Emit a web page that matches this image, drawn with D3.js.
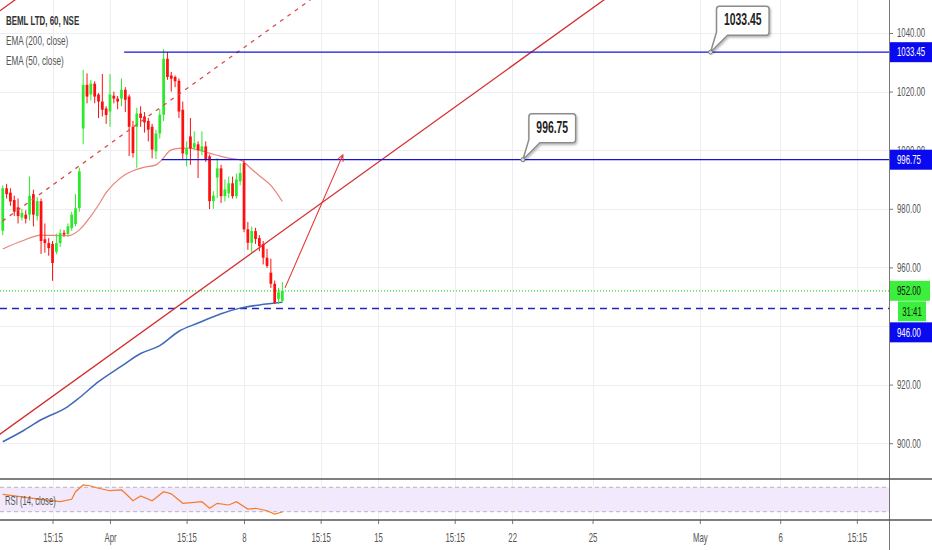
<!DOCTYPE html>
<html>
<head>
<meta charset="utf-8">
<script src="https://cdn.jsdelivr.net/npm/d3@7"></script>
<style>
  body { margin: 0; background: #fff; }
  svg { display: block; font-family: "Liberation Sans", Arial, sans-serif; }
</style>
</head>
<body>
<div id="chart"></div>
<script>
// ---- data (hourly bars, index 0 = 1 Apr 09:15) ----
const barStart = -28;
const opens = [972.5, 987, 985.5, 983, 980.5, 977, 978, 978, 985, 977.5, 982.6, 969.6, 968.3, 968, 965.3, 968.3, 971.8, 971.4, 973.4, 974.8, 980.3,
  1007.4, 1022.3, 1019, 1022.7, 1019, 1016.6, 1014.2,
  1013.2, 1018.6, 1017.6, 1017.6, 1020.6, 1018.3, 1008,
  1008, 1012.5, 1011.5, 1010, 1008, 999.6, 1005.7,
  1012.1, 1031.2, 1025.5, 1025, 1023.7, 1013.8, 998.5,
  1004.7, 1000.9, 1002, 999.6, 1001.3, 997.9, 982.6,
  990.6, 993.8, 984.3, 985.3, 988.7, 984.3, 989.4,
  995.6, 973, 968.4, 972.4, 970, 968, 963.3,
  958.2, 954.4, 949.3, 948.6];
const highs = [988, 988.5, 987, 984.5, 983.5, 980, 979.5, 991, 986.5, 984, 983.5, 975, 970, 969, 971.5, 973, 972.8, 975, 979, 985, 994,
  1027.4, 1026.2, 1024, 1023.5, 1019.5, 1026, 1015,
  1026, 1020, 1018.5, 1024.5, 1021.5, 1019, 1010,
  1014.5, 1015, 1013, 1011, 1009, 1007, 1014,
  1034.5, 1033.45, 1026.7, 1025.5, 1024.5, 1016.6, 1003,
  1011, 1006.4, 1003, 1006.4, 1003, 998.5, 986,
  997.3, 995, 990, 991, 991, 992, 995.5,
  996.75, 975.5, 974, 973.5, 971, 969, 966.3,
  963, 955.5, 953, 955];
const lows = [971, 983.5, 981, 977.5, 975, 976, 975, 976, 974, 976, 964.6, 965, 964, 955.4, 964.5, 967, 970.5, 970.5, 972.5, 974, 979,
  1002, 1016, 1017, 1016, 1011, 1011.5, 1009,
  1008, 1016, 1014, 1015, 1013, 998, 997.5,
  994, 1008, 1006, 1003, 997.2, 997, 1004,
  1010, 1024, 1020, 1021.5, 1011, 996.8, 994.5,
  995, 1000, 990.5, 998.3, 996, 979.9, 980,
  983.7, 982, 982.5, 983.7, 983.5, 983.5, 988,
  972, 966, 965, 968, 965.5, 961, 959.8,
  953, 947.5, 947.6, 948];
const closes = [987, 985, 982.5, 979, 977.5, 978.6, 976.6, 984.4, 978, 982.6, 969, 968.3, 966.6, 961.5, 968.3, 971.7, 971.2, 974, 978, 980.2, 992.8,
  1022.3, 1018.3, 1022.7, 1018.3, 1016.6, 1013.8, 1012,
  1019, 1017.6, 1016.6, 1020.6, 1017.2, 1008, 999,
  1012.5, 1011, 1009.5, 1007, 1000.2, 1005.7, 1012.1,
  1031.2, 1025, 1024.4, 1023.5, 1013.2, 998.9, 1000.5,
  1000.6, 1002.4, 1000, 1001.3, 997, 982.6, 984.5,
  993.8, 984.3, 986.6, 988.7, 984.3, 990, 992.2,
  973, 968.4, 972.4, 969.7, 967.3, 963.3, 960.5,
  954.4, 948, 951.5, 952];

const ema50Idx = [-28, -23, -18, -11, -8, -5, -3, -1, 1, 4, 6, 9, 12, 13, 16, 18, 21, 23, 26, 29, 31, 34, 37, 39, 42, 45];
const ema50Val = [966.3, 969, 971, 970.8, 972.8, 977.5, 981.3, 985.5, 988.5, 991.7, 993, 994.2, 995, 996, 1000.1, 1000.6, 1000.7, 1000.1, 999, 997.9, 997.3, 996.7, 993.5, 991.3, 988, 982.5];
const ema200Idx = [-28, -23, -18, -11, -8, -3, 3, 8, 13, 18, 23, 29, 34, 39, 45];
const ema200Val = [900.5, 904, 908, 912.5, 915.5, 921, 926.3, 930.6, 933.3, 938.2, 941, 944.2, 946.1, 947.2, 948.1];

const rsiIdx = [-28, -24, -18, -13, -10, -9, -7, -5, -3, 0, 3, 4, 6, 8, 11, 14, 16, 19, 22, 24, 26, 28, 31, 33, 36, 38, 41, 43, 45];
const rsiVal = [58.5, 55, 50.3, 46.4, 50.3, 62.8, 73.8, 72.1, 68.4, 64.4, 65.6, 60.2, 48, 55.7, 48, 62.8, 59.2, 43.8, 45.4, 46.4, 35.6, 43.8, 41, 46.4, 34.4, 35.6, 31.6, 26.2, 29.5];

const priceTicks = [900, 920, 940, 960, 980, 1000, 1020, 1040];
const hiddenTicks = [940]; // covered by the 946.00 tag in the original
const xTickIdx = [-15, 0, 20, 35, 55, 70, 90, 105, 126, 154, 175, 195];
const xTickLabels = ["15:15", "Apr", "15:15", "8", "15:15", "15", "15:15", "22", "25", "May", "6", "15:15"];

// drawings: [bar index, price]
const trendMain = [[-30, 901.9], [131, 1053.2]];
const trendDashed = [[-30, 974.0], [54, 1052.9]];
const trendTop = [[-30, 1046.4], [-23, 1053]];
const arrowPts = [[45.7, 953], [60.8, 998.4]];
const levelPrices = [1033.45, 996.75];
const levelStart = [3.7, 13.5];
const calloutIdx = [156.8, 107.8];
const lastPrice = 952;
const supportPrice = 946;
const countdown = "31:41";

// ---- layout ----
const W = 932, H = 550;
const plotW = 889, mainH = 479, rsiBot = 520;
const squeeze = 0.65;
const green = "#2bea2b", red = "#ff1010";

const x = d3.scaleLinear().domain([-28.72, 203.4]).range([0, plotW]);
const y = d3.scaleLinear().domain([887.78, 1051.26]).range([mainH, 0]);
const yr = d3.scaleLinear().domain([30, 70]).range([511.7, 487.3]);

const svg = d3.select("#chart").append("svg").attr("width", W).attr("height", H);
svg.append("rect").attr("width", W).attr("height", H).attr("fill", "#fff");

const defs = svg.append("defs");
defs.append("clipPath").attr("id", "clipMain")
  .append("rect").attr("width", plotW).attr("height", mainH);
defs.append("filter").attr("id", "shadow")
  .attr("x", "-30%").attr("y", "-30%").attr("width", "160%").attr("height", "170%")
  .append("feDropShadow").attr("dx", 1).attr("dy", 1.5).attr("stdDeviation", 1)
  .attr("flood-color", "#000").attr("flood-opacity", 0.3);

const px = (v) => Math.round(v) + 0.5;

// squeezed text helper (the snapshot is horizontally compressed)
function label(g, tx, ty, txt, size, fill, weight, anchor, sq) {
  const s = sq || squeeze;
  return g.append("text")
    .attr("transform", `translate(${tx},${ty}) scale(${s},1)`)
    .attr("font-size", size)
    .attr("font-weight", weight || "normal")
    .attr("text-anchor", anchor || "start")
    .attr("fill", fill)
    .text(txt);
}

// RSI band
svg.append("rect")
  .attr("x", 0).attr("y", yr(70)).attr("width", plotW).attr("height", yr(30) - yr(70))
  .attr("fill", "#f3e9fd");

// grid
const grid = svg.append("g").attr("stroke", "#eceef3").attr("stroke-width", 1);
grid.selectAll(".vg").data(xTickIdx).enter().append("line")
  .attr("x1", (d) => px(x(d))).attr("x2", (d) => px(x(d)))
  .attr("y1", 0).attr("y2", rsiBot);
grid.selectAll(".hg").data(priceTicks).enter().append("line")
  .attr("x1", 0).attr("x2", plotW)
  .attr("y1", (d) => px(y(d))).attr("y2", (d) => px(y(d)));

// RSI bounds
svg.selectAll(".rb").data([70, 30]).enter().append("line")
  .attr("x1", 0).attr("x2", plotW)
  .attr("y1", (d) => yr(d)).attr("y2", (d) => yr(d))
  .attr("stroke", "#b4b4be").attr("stroke-dasharray", "4,3");

// RSI line
svg.append("path")
  .datum(d3.zip(rsiIdx, rsiVal))
  .attr("fill", "none").attr("stroke", "#f57c2a").attr("stroke-width", 1.2)
  .attr("d", d3.line().x((d) => x(d[0])).y((d) => yr(d[1])));
label(svg, 5, 505, "RSI (14, close)", 12, "#555", "normal", "start", 0.64);

// main pane
const main = svg.append("g").attr("clip-path", "url(#clipMain)");

main.append("line")
  .attr("x1", 0).attr("x2", plotW).attr("y1", y(lastPrice)).attr("y2", y(lastPrice))
  .attr("stroke", "#2bd92b").attr("stroke-width", 1.2).attr("stroke-dasharray", "1,2");
main.append("line")
  .attr("x1", 0).attr("x2", plotW).attr("y1", y(supportPrice)).attr("y2", y(supportPrice))
  .attr("stroke", "#2424b8").attr("stroke-width", 1.5).attr("stroke-dasharray", "7,5");

const emaLine = d3.line().x((d) => x(d[0])).y((d) => y(d[1])).curve(d3.curveMonotoneX);
main.append("path").datum(d3.zip(ema200Idx, ema200Val))
  .attr("fill", "none").attr("stroke", "#4169b5").attr("stroke-width", 1.5).attr("d", emaLine);
main.append("path").datum(d3.zip(ema50Idx, ema50Val))
  .attr("fill", "none").attr("stroke", "#e8847d").attr("stroke-width", 1.2).attr("d", emaLine);

// candles
const bars = opens.map((o, k) => ({ i: barStart + k, o, h: highs[k], l: lows[k], c: closes[k] }));
const bw = x(0.72) - x(0);
const cg = main.append("g");
cg.selectAll(".wick").data(bars).enter().append("line")
  .attr("x1", (d) => x(d.i)).attr("x2", (d) => x(d.i))
  .attr("y1", (d) => y(d.h)).attr("y2", (d) => y(d.l))
  .attr("stroke", (d) => (d.c >= d.o ? green : red)).attr("stroke-width", 1);
cg.selectAll(".body").data(bars).enter().append("rect")
  .attr("x", (d) => x(d.i) - bw / 2).attr("width", bw)
  .attr("y", (d) => y(Math.max(d.o, d.c)))
  .attr("height", (d) => Math.max(1, Math.abs(y(d.o) - y(d.c))))
  .attr("fill", (d) => (d.c >= d.o ? green : red));

// trend lines
const seg = d3.line().x((d) => x(d[0])).y((d) => y(d[1]));
main.append("path").datum(trendMain).attr("d", seg)
  .attr("stroke", "#d42f2f").attr("stroke-width", 1.3).attr("fill", "none");
main.append("path").datum(trendTop).attr("d", seg)
  .attr("stroke", "#d42f2f").attr("stroke-width", 1.3).attr("fill", "none");
main.append("path").datum(trendDashed).attr("d", seg)
  .attr("stroke", "#d94a4a").attr("stroke-width", 1.3).attr("stroke-dasharray", "4,5").attr("fill", "none");

// horizontal levels
main.selectAll(".lvl").data(levelPrices).enter().append("line")
  .attr("x1", (d, k) => x(levelStart[k])).attr("x2", plotW)
  .attr("y1", (d) => y(d)).attr("y2", (d) => y(d))
  .attr("stroke", "#1414d6").attr("stroke-width", 1.3);

// arrow
{
  const [a, b] = arrowPts.map((p) => [x(p[0]), y(p[1])]);
  const ang = Math.atan2(b[1] - a[1], b[0] - a[0]);
  const hl = 7;
  main.append("path")
    .attr("d", `M${a[0]},${a[1]}L${b[0]},${b[1]}` +
      `M${b[0] - hl * Math.cos(ang - 0.45)},${b[1] - hl * Math.sin(ang - 0.45)}L${b[0]},${b[1]}` +
      `L${b[0] - hl * Math.cos(ang + 0.45)},${b[1] - hl * Math.sin(ang + 0.45)}`)
    .attr("stroke", "#e53935").attr("stroke-width", 1.1).attr("fill", "none");
}

// callouts
levelPrices.forEach((p, k) => {
  const g = main.append("g").attr("transform", `translate(${x(calloutIdx[k])},${y(p)})`);
  const t = label(g, 0, 0, p.toFixed(2), 16, "#222", "bold", "middle");
  const tw = t.node().getComputedTextLength() * squeeze;
  const bx = 6, by = -46, w = tw + 15, h = 29, r = 3;
  g.insert("path", "text")
    .attr("d", `M${bx + r},${by}H${bx + w - r}Q${bx + w},${by} ${bx + w},${by + r}V${by + h - r}` +
      `Q${bx + w},${by + h} ${bx + w - r},${by + h}H${bx + 11}L0,0L${bx},${by + h - 3}V${by + r}Q${bx},${by} ${bx + r},${by}Z`)
    .attr("fill", "#fff").attr("stroke", "#8c8c8c").attr("stroke-width", 1.5)
    .attr("filter", "url(#shadow)");
  t.attr("transform", `translate(${bx + w / 2},${by + 19}) scale(${squeeze},1)`);
  g.append("circle").attr("r", 2).attr("fill", "#ddd").attr("stroke", "#777");
});

// legend
label(svg, 6, 25, "BEML LTD, 60, NSE", 13, "#333", "bold", "start", 0.61);
label(svg, 6, 45, "EMA (200, close)", 13, "#555", "normal", "start", 0.63);
label(svg, 6, 65, "EMA (50, close)", 13, "#555", "normal", "start", 0.63);

// axes
const xAxis = svg.append("g").attr("transform", `translate(0,${rsiBot})`)
  .call(d3.axisBottom(x).tickValues(xTickIdx).tickFormat((d, k) => xTickLabels[k]).tickSize(4).tickPadding(9));
xAxis.select(".domain").remove();
xAxis.selectAll("line").attr("stroke", "#777");
xAxis.selectAll("text").attr("font-size", 12).attr("fill", "#555")
  .attr("font-family", "Liberation Sans, Arial, sans-serif")
  .attr("transform", `scale(${squeeze},1)`);

const yAxis = svg.append("g").attr("transform", `translate(${plotW},0)`)
  .call(d3.axisRight(y).tickValues(priceTicks)
    .tickFormat((d) => (hiddenTicks.includes(d) ? "" : d3.format(".2f")(d))).tickSize(4));
yAxis.select(".domain").remove();
yAxis.selectAll("line").attr("stroke", "#777");
yAxis.selectAll("text").attr("font-size", 12).attr("fill", "#555")
  .attr("font-family", "Liberation Sans, Arial, sans-serif")
  .attr("x", 8 / squeeze).attr("transform", `scale(${squeeze},1)`);

// price tags on axis
function tag(yc, txt, fill, color, x0, w, centered) {
  svg.append("rect").attr("x", x0).attr("y", yc - 10).attr("width", w).attr("height", 20).attr("fill", fill);
  label(svg, centered ? x0 + w / 2 : 897, yc + 4.3, txt, 12, color, "normal", centered ? "middle" : "start");
}
levelPrices.forEach((p) => tag(y(p), p.toFixed(2), "#0a0af0", "#fff", 890, 42));
const yLast = y(lastPrice);
tag(yLast, lastPrice.toFixed(2), "#3cef3c", "#111", 890, 40);
tag(yLast + 20.5, countdown, "#3cef3c", "#111", 898, 28, true);
tag(yLast + 41.5, supportPrice.toFixed(2), "#0a0af0", "#fff", 890, 42);

// pane borders
svg.append("line").attr("x1", px(plotW)).attr("x2", px(plotW)).attr("y1", 0).attr("y2", H)
  .attr("stroke", "#777").attr("stroke-width", 1);
svg.selectAll(".sep").data([mainH, rsiBot]).enter().append("line")
  .attr("x1", 0).attr("x2", W).attr("y1", (d) => d).attr("y2", (d) => d)
  .attr("stroke", "#555").attr("stroke-width", 1.5);
</script>
</body>
</html>
